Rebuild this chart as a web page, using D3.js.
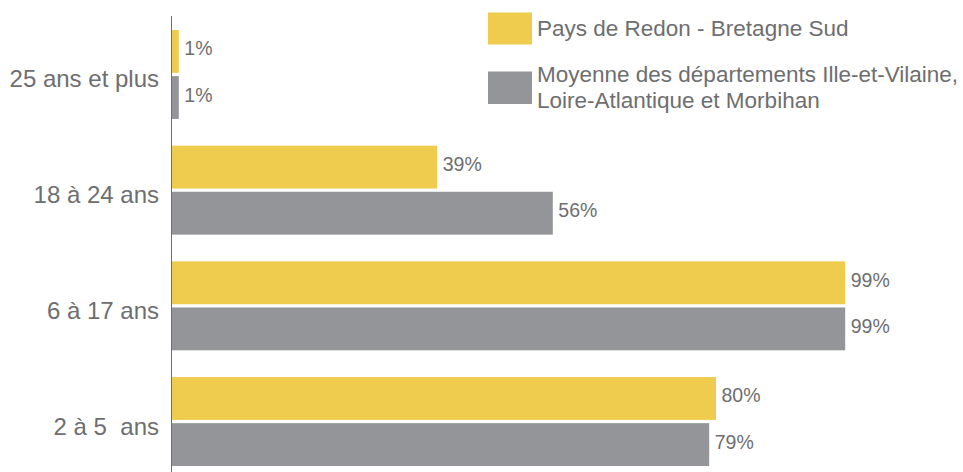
<!DOCTYPE html>
<html>
<head>
<meta charset="utf-8">
<script src="https://cdn.jsdelivr.net/npm/d3@7"></script>
<style>
  html, body { margin: 0; padding: 0; background: #fff; }
  svg { display: block; }
  text { font-family: "Liberation Sans", Arial, Helvetica, sans-serif; }
</style>
</head>
<body>
<svg id="chart" width="963" height="472"></svg>
<script>
const categories = ["25 ans et plus", "18 à 24 ans", "6 à 17 ans", "2 à 5  ans"];
const seriesNames = ["Pays de Redon - Bretagne Sud", "Moyenne des départements Ille-et-Vilaine, Loire-Atlantique et Morbihan"];
const redonValues = [1, 39, 99, 80];
const moyenneValues = [1, 56, 99, 79];
const seriesKeys = ["redon", "moyenne"];
const colors = ["#F0CC4E", "#939598"];

const rows = categories.map((c, i) => ({ cat: c, redon: redonValues[i], moyenne: moyenneValues[i] }));

const svg = d3.select("#chart");

const x = d3.scaleLinear().domain([0, 100]).range([172, 852]);
const y = d3.scaleBand().domain(categories).range([16.6, 479.4]).paddingInner(0.231).paddingOuter(0.1157);
const ySub = d3.scaleBand().domain(seriesKeys).range([0, y.bandwidth()]).paddingInner(0.07).paddingOuter(0);
const color = d3.scaleOrdinal().domain(seriesKeys).range(colors);

// axis line
svg.append("line")
  .attr("x1", 171.5).attr("x2", 171.5)
  .attr("y1", 16).attr("y2", 472)
  .attr("stroke", "#6d6e71").attr("stroke-width", 1);

const groups = svg.selectAll("g.grp").data(rows).enter().append("g")
  .attr("class", "grp")
  .attr("transform", d => `translate(0,${y(d.cat)})`);

groups.selectAll("rect").data(d => seriesKeys.map(k => ({ key: k, value: d[k] })))
  .enter().append("rect")
  .attr("x", x(0))
  .attr("y", d => ySub(d.key))
  .attr("width", d => x(d.value) - x(0))
  .attr("height", ySub.bandwidth())
  .attr("fill", d => color(d.key));

groups.selectAll("text.val").data(d => seriesKeys.map(k => ({ key: k, value: d[k] })))
  .enter().append("text")
  .attr("class", "val")
  .attr("x", d => x(d.value) + 5.5)
  .attr("y", d => ySub(d.key) + ySub.bandwidth() / 2 + 4)
  .attr("font-size", "19.5px")
  .attr("fill", "#6d6e71")
  .text(d => d.value + "%");

// category labels
svg.selectAll("text.cat").data(categories).enter().append("text")
  .attr("class", "cat")
  .attr("x", 159)
  .attr("y", d => y(d) + y.bandwidth() / 2 + 13)
  .attr("text-anchor", "end")
  .attr("font-size", "24px")
  .attr("fill", "#6d6e71")
  .style("white-space", "pre")
  .attr("xml:space", "preserve")
  .text(d => d);

// legend
const legend = svg.append("g");
legend.append("rect").attr("x", 488).attr("y", 12.5).attr("width", 44).attr("height", 32).attr("fill", colors[0]);
legend.append("text").attr("x", 537).attr("y", 35.7).attr("font-size", "22.5px").attr("fill", "#6d6e71").text(seriesNames[0]);
legend.append("rect").attr("x", 488).attr("y", 71.5).attr("width", 44).attr("height", 32.5).attr("fill", colors[1]);
const lt = legend.append("text").attr("x", 537).attr("y", 82).attr("font-size", "22.5px").attr("fill", "#6d6e71");
lt.append("tspan").attr("x", 537).attr("y", 82).text("Moyenne des départements Ille-et-Vilaine,");
lt.append("tspan").attr("x", 537).attr("y", 108).text("Loire-Atlantique et Morbihan");
</script>
</body>
</html>
